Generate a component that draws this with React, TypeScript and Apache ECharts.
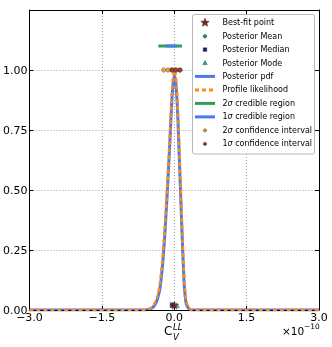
import React, { useEffect, useRef } from "react";
import * as echarts from "echarts";

// x values in units of 1e-10
const xGrid = [-3, -0.6, -0.5, -0.45, -0.4, -0.35, -0.3, -0.25, -0.2, -0.15, -0.1, -0.075, -0.05, -0.025, 0, 0.025, 0.05, 0.075, 0.1, 0.125, 0.15, 0.175, 0.2, 0.225, 0.25, 0.3, 0.35, 3];
const pdfValues = [0, 0, 0.004, 0.01, 0.022, 0.045, 0.085, 0.17, 0.3, 0.47, 0.66, 0.77, 0.87, 0.94, 0.975, 0.96, 0.9, 0.8, 0.66, 0.52, 0.38, 0.25, 0.13, 0.06, 0.025, 0.006, 0, 0];
const profileValues = [0, 0, 0.006, 0.014, 0.03, 0.058, 0.105, 0.2, 0.33, 0.5, 0.69, 0.8, 0.9, 0.97, 1.0, 0.985, 0.93, 0.83, 0.7, 0.56, 0.42, 0.28, 0.16, 0.08, 0.035, 0.01, 0.001, 0];

const cred2 = [-0.33, 0.16];
const cred1 = [-0.17, 0.06];
const credY = 1.1;

const conf2X = [-0.22, -0.13, -0.047, 0.035, 0.118];
const conf1X = [-0.047, 0.035, 0.118];
const confY = 1.0;

const meanPt = [-0.02, 0.02];
const medianPt = [-0.035, 0.02];
const modePt = [0.056, 0.02];
const bestFitPt = [0.006, 0.02];

const xMin = -3, xMax = 3, xStep = 1.5;
const yMin = 0, yMax = 1.25, yStep = 0.25;

const legendLabels = [
  "Best-fit point",
  "Posterior Mean",
  "Posterior Median",
  "Posterior Mode",
  "Posterior pdf",
  "Profile likelihood",
  "2σ credible region",
  "1σ credible region",
  "2σ confidence interval",
  "1σ confidence interval",
];

const C_BLUE = "#4a7bec";
const C_ORANGE = "#ff8c10";
const C_GREEN = "#2f9e5b";
const C_STAR = "#8b1a1a";
const C_MEAN = "#2e8b57";
const C_MEDIAN = "#1a1a6e";
const C_MODE = "#20b2b2";
const C_CONF2 = "#e8901e";
const C_CONF1 = "#8c2a2a";

const STAR_PATH =
  "path://M0,-10L2.35,-3.24L9.51,-3.09L3.8,1.24L5.88,8.09L0,4.2L-5.88,8.09L-3.8,1.24L-9.51,-3.09L-2.35,-3.24Z";

const FONT = "DejaVu Sans";

function starPoints(cx: number, cy: number, R: number, r: number) {
  const pts: number[][] = [];
  for (let i = 0; i < 10; i++) {
    const a = -Math.PI / 2 + (i * Math.PI) / 5;
    const rad = i % 2 === 0 ? R : r;
    pts.push([cx + rad * Math.cos(a), cy + rad * Math.sin(a)]);
  }
  return pts;
}

const fmtX = (v: number) => {
  const s = Math.abs(v).toFixed(1);
  return v < 0 ? "\u2212" + s : s;
};

export default function App() {
  const ref = useRef<HTMLDivElement>(null);
  useEffect(() => {
    if (!ref.current) return;
    const chart = echarts.init(ref.current, null, { renderer: "svg" });

    const lx = 205;
    const rowY = [22.7, 36.2, 49.6, 63.0, 76.4, 89.9, 103.4, 116.9, 130.4, 143.9];
    const tx = 222.5;
    const legendGraphics: any[] = [
      {
        type: "rect",
        shape: { x: 192.5, y: 14.5, width: 122, height: 139.5, r: 2 },
        style: { fill: "#ffffff", stroke: "#b8b8b8", lineWidth: 1 },
        z: 10,
      },
      {
        type: "polygon",
        shape: { points: starPoints(lx, rowY[0], 4.4, 1.9) },
        style: { fill: C_STAR, stroke: "#222", lineWidth: 0.5 },
        z: 11,
      },
      {
        type: "circle",
        shape: { cx: lx, cy: rowY[1], r: 1.8 },
        style: { fill: C_MEAN, stroke: "#222", lineWidth: 0.4 },
        z: 11,
      },
      {
        type: "rect",
        shape: { x: lx - 1.8, y: rowY[2] - 1.8, width: 3.6, height: 3.6 },
        style: { fill: C_MEDIAN, stroke: "#222", lineWidth: 0.4 },
        z: 11,
      },
      {
        type: "polygon",
        shape: { points: [[lx, rowY[3] - 2.4], [lx + 2.2, rowY[3] + 1.6], [lx - 2.2, rowY[3] + 1.6]] },
        style: { fill: C_MODE, stroke: "#222", lineWidth: 0.4 },
        z: 11,
      },
      {
        type: "line",
        shape: { x1: 195, y1: rowY[4], x2: 215, y2: rowY[4] },
        style: { stroke: C_BLUE, lineWidth: 3 },
        z: 11,
      },
      {
        type: "line",
        shape: { x1: 195, y1: rowY[5], x2: 215, y2: rowY[5] },
        style: { stroke: C_ORANGE, lineWidth: 3, lineDash: [4, 3] },
        z: 11,
      },
      {
        type: "line",
        shape: { x1: 195, y1: rowY[6], x2: 215, y2: rowY[6] },
        style: { stroke: C_GREEN, lineWidth: 3 },
        z: 11,
      },
      {
        type: "line",
        shape: { x1: 195, y1: rowY[7], x2: 215, y2: rowY[7] },
        style: { stroke: C_BLUE, lineWidth: 3 },
        z: 11,
      },
      {
        type: "circle",
        shape: { cx: lx, cy: rowY[8], r: 1.7 },
        style: { fill: C_CONF2, stroke: "#333", lineWidth: 0.4 },
        z: 11,
      },
      {
        type: "circle",
        shape: { cx: lx, cy: rowY[9], r: 1.7 },
        style: { fill: C_CONF1, stroke: "#333", lineWidth: 0.4 },
        z: 11,
      },
    ];
    legendLabels.forEach((lab, i) => {
      legendGraphics.push({
        type: "text",
        x: tx,
        y: rowY[i],
        z: 11,
        style: {
          text: lab.replace("σ", "{s|σ}"),
          font: `8px "${FONT}"`,
          fill: "#000",
          verticalAlign: "middle",
          align: "left",
          rich: {
            s: { fontStyle: "italic", fontSize: 8, fontFamily: FONT },
          },
        },
      });
    });

    const axisLabelGraphics: any[] = [
      { type: "text", x: 164, y: 331, style: { text: "C", font: `12px "${FONT}"`, fill: "#000", verticalAlign: "middle" } },
      { type: "text", x: 173, y: 326.5, style: { text: "LL", font: `italic 8.5px "${FONT}"`, fill: "#000", verticalAlign: "middle" } },
      { type: "text", x: 173, y: 336.5, style: { text: "V", font: `italic 8.5px "${FONT}"`, fill: "#000", verticalAlign: "middle" } },
      { type: "text", x: 282, y: 331, style: { text: "×10", font: `10.5px "${FONT}"`, fill: "#000", verticalAlign: "middle" } },
      { type: "text", x: 304, y: 326, style: { text: "\u221210", font: `7.5px "${FONT}"`, fill: "#000", verticalAlign: "middle" } },
    ];

    const gridSplit = { show: true, lineStyle: { color: "#a0a0a0", type: [1, 2], width: 1 } };
    const grid = { left: 29, right: 13, top: 10, bottom: 37 };

    const baseX = { type: "value", min: xMin, max: xMax, interval: xStep, gridIndex: 0 };
    const baseY = { type: "value", min: yMin, max: yMax, interval: yStep, gridIndex: 0 };

    const option: any = {
      animation: false,
      grid,
      xAxis: [
        {
          ...baseX,
          position: "bottom",
          z: 3,
          axisLine: { show: true, onZero: false, lineStyle: { color: "#000", width: 1 } },
          axisTick: { show: true, inside: true, length: 4, lineStyle: { color: "#000" } },
          axisLabel: {
            show: true,
            margin: 2,
            formatter: fmtX,
            color: "#000",
            fontFamily: FONT,
            fontSize: 11,
          },
          splitLine: { show: false },
        },
        {
          ...baseX,
          position: "top",
          z: 3,
          axisLine: { show: true, onZero: false, lineStyle: { color: "#000", width: 1 } },
          axisTick: { show: true, inside: true, length: 4, lineStyle: { color: "#000" } },
          axisLabel: { show: false },
          splitLine: { show: false },
        },
        {
          ...baseX,
          position: "bottom",
          z: 0,
          axisLine: { show: false },
          axisTick: { show: false },
          axisLabel: { show: false },
          splitLine: gridSplit,
        },
      ],
      yAxis: [
        {
          ...baseY,
          position: "left",
          z: 3,
          axisLine: { show: true, onZero: false, lineStyle: { color: "#000", width: 1 } },
          axisTick: { show: true, inside: true, length: 4, lineStyle: { color: "#000" } },
          axisLabel: {
            show: true,
            margin: 2,
            formatter: (v: number) => (v > 1.2 ? "" : v.toFixed(2)),
            color: "#000",
            fontFamily: FONT,
            fontSize: 11,
          },
          splitLine: { show: false },
        },
        {
          ...baseY,
          position: "right",
          z: 3,
          axisLine: { show: true, onZero: false, lineStyle: { color: "#000", width: 1 } },
          axisTick: { show: true, inside: true, length: 4, lineStyle: { color: "#000" } },
          axisLabel: { show: false },
          splitLine: { show: false },
        },
        {
          ...baseY,
          position: "left",
          z: 0,
          axisLine: { show: false },
          axisTick: { show: false },
          axisLabel: { show: false },
          splitLine: gridSplit,
        },
      ],
      series: [
        {
          type: "line",
          name: "Posterior pdf",
          data: xGrid.map((x, i) => [x, pdfValues[i]]),
          showSymbol: false,
          symbol: "none",
          smooth: 0.25,
          lineStyle: { color: C_BLUE, width: 3 },
          z: 2,
        },
        {
          type: "line",
          name: "Profile likelihood",
          data: xGrid.map((x, i) => [x, profileValues[i]]),
          showSymbol: false,
          symbol: "none",
          smooth: 0.25,
          lineStyle: { color: C_ORANGE, width: 2.6, type: [4, 3] },
          z: 3,
        },
        {
          type: "line",
          name: "2σ credible region",
          data: cred2.map((x) => [x, credY]),
          symbol: "none",
          lineStyle: { color: C_GREEN, width: 3 },
          z: 3,
        },
        {
          type: "line",
          name: "1σ credible region",
          data: cred1.map((x) => [x, credY]),
          symbol: "none",
          lineStyle: { color: C_BLUE, width: 3 },
          z: 4,
        },
        {
          type: "scatter",
          name: "2σ confidence interval",
          data: conf2X.map((x) => [x, confY]),
          symbol: "circle",
          symbolSize: 4.5,
          itemStyle: { color: C_CONF2, borderColor: "#333", borderWidth: 0.4 },
          z: 5,
        },
        {
          type: "scatter",
          name: "1σ confidence interval",
          data: conf1X.map((x) => [x, confY]),
          symbol: "circle",
          symbolSize: 4.5,
          itemStyle: { color: C_CONF1, borderColor: "#333", borderWidth: 0.4 },
          z: 6,
        },
        {
          type: "scatter",
          name: "Posterior Mean",
          data: [meanPt],
          symbol: "circle",
          symbolSize: 4,
          itemStyle: { color: C_MEAN, borderColor: "#222", borderWidth: 0.4 },
          z: 6,
        },
        {
          type: "scatter",
          name: "Posterior Median",
          data: [medianPt],
          symbol: "rect",
          symbolSize: 5,
          itemStyle: { color: C_MEDIAN, borderColor: "#222", borderWidth: 0.4 },
          z: 6,
        },
        {
          type: "scatter",
          name: "Posterior Mode",
          data: [modePt],
          symbol: "triangle",
          symbolSize: 5,
          itemStyle: { color: C_MODE, borderColor: "#222", borderWidth: 0.4 },
          z: 6,
        },
        {
          type: "scatter",
          name: "Best-fit point",
          data: [bestFitPt],
          symbol: STAR_PATH,
          symbolSize: 8,
          itemStyle: { color: C_STAR, borderColor: "#222", borderWidth: 0.4 },
          z: 7,
        },
      ],
      graphic: [...legendGraphics, ...axisLabelGraphics],
    };

    chart.setOption(option);
    return () => chart.dispose();
  }, []);

  return (
    <div
      ref={ref}
      style={{ position: "fixed", left: 0, top: 0, width: 332, height: 347 }}
    />
  );
}
